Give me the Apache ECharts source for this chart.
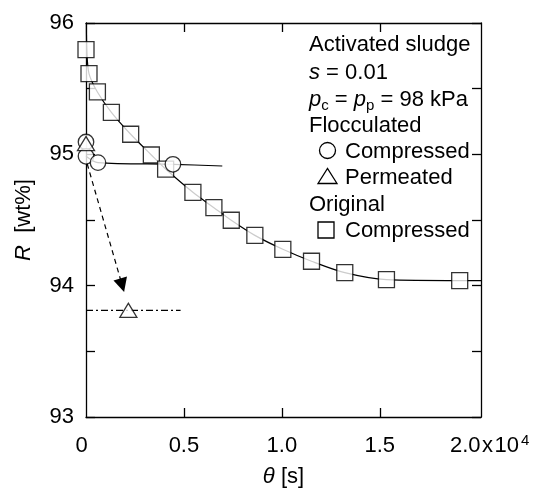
<!DOCTYPE html>
<html>
<head>
<meta charset="utf-8">
<script src="https://cdn.jsdelivr.net/npm/echarts@6/dist/echarts.min.js"></script>
<style>html,body{margin:0;padding:0;background:#fff}#c{width:538px;height:488px}</style>
</head>
<body>
<div id="c"></div>
<script>
// ---- data ----
// Original sludge, compressed (squares)
const origTheta = [0, 153, 582, 1296, 2281, 3337, 4066, 5459, 6531, 7418, 8622, 10051, 11515, 13214, 15342, 19082];
const origR     = [95.797, 95.615, 95.475, 95.32, 95.153, 94.995, 94.888, 94.711, 94.594, 94.498, 94.383, 94.277, 94.186, 94.099, 94.046, 94.039];
// fitted curve through the original data
const origCurveTheta = [20, 40, 153, 582, 1296, 2281, 3337, 4066, 5459, 6531, 7418, 8622, 10051, 11515, 13214, 15342, 19082, 20170];
const origCurveR     = [96.0, 95.80, 95.615, 95.475, 95.32, 95.153, 94.995, 94.888, 94.711, 94.594, 94.498, 94.383, 94.277, 94.186, 94.099, 94.046, 94.039, 94.039];
// Flocculated, compressed (circles)
const flocTheta = [0, 0, 612, 4439];
const flocR     = [95.094, 94.985, 94.937, 94.924];
const flocCurveTheta = [0, 612, 4439, 6959];
const flocCurveR     = [94.985, 94.937, 94.924, 94.911];
// Flocculated, permeated (triangles)
const permTheta = [0, 2163];
const permR     = [95.082, 93.812];
// dash-dot reference level
const levelTheta = [0, 4830];
const levelR     = [93.812, 93.812];
// dashed arrow
const arrowTheta = [61, 1847];
const arrowR     = [94.928, 94.0035];
// axis ticks and labels
const xTickValues  = [5000, 10000, 15000];
const xLabelValues = [0, 5000, 10000, 15000, 20000];
const xTickLabels  = ['{zero|0}', '{m|0.5}', '{m|1.0}', '{m|1.5}', '{big|2.0}{x|x}{m|10}{sup|4}'];
const yTickLabels  = ['93', '94', '95', '96'];

const FONT = 'Liberation Sans, Arial, Helvetica, sans-serif';
const zip = (a, b) => a.map((v, i) => [v, b[i]]);

const chart = echarts.init(document.getElementById('c'), null, {renderer: 'canvas'});
const axisLine = {show: true, onZero: false, lineStyle: {color: '#000', width: 1.3}};
const yTick = {show: true, inside: true, length: 9, lineStyle: {color: '#000', width: 1.3}};
const xTick = {show: true, inside: true, length: 9, customValues: xTickValues, lineStyle: {color: '#000', width: 1.3}};
const lab = {fontSize: 22, fontFamily: FONT, color: '#000', lineHeight: 22};

chart.setOption({
  backgroundColor: '#fff',
  animation: false,
  textStyle: {fontFamily: FONT},
  grid: {left: 86, right: 57, top: 23, bottom: 71, containLabel: false, outerBoundsMode: 'none'},
  xAxis: [{
    type: 'value', min: 0, max: 20170, position: 'bottom',
    axisLine: axisLine, axisTick: xTick, splitLine: {show: false},
    axisLabel: {
      customValues: xLabelValues, showMinLabel: true, showMaxLabel: true,
      margin: 16, color: '#000', fontSize: 22, fontFamily: FONT,
      formatter: v => xTickLabels[xLabelValues.indexOf(v)] || '',
      rich: {
        m: Object.assign({}, lab, {padding: [4, 0, 0, 0]}),
        zero: Object.assign({}, lab, {padding: [4, 9, 0, 0]}),
        big: Object.assign({}, lab, {padding: [4, 0, 0, 24]}),
        x: Object.assign({}, lab, {padding: [4, 1.5, 0, 1.5]}),
        sup: {fontSize: 15, fontFamily: FONT, color: '#000', verticalAlign: 'top', lineHeight: 15, padding: [0, 0, 0, 2]}
      }
    },
    name: '{i|θ} [s]', nameLocation: 'middle', nameGap: 49,
    nameTextStyle: {fontSize: 22, color: '#000', fontFamily: FONT,
      rich: {i: Object.assign({}, lab, {fontStyle: 'italic'})}}
  }, {
    type: 'value', min: 0, max: 20170, position: 'top',
    axisLine: axisLine, axisTick: xTick, axisLabel: {show: false}, splitLine: {show: false}
  }],
  yAxis: [{
    type: 'value', min: 93, max: 96, interval: 0.5, position: 'left',
    axisLine: axisLine, axisTick: yTick, splitLine: {show: false},
    axisLabel: {
      margin: 12, color: '#000', fontSize: 22, fontFamily: FONT,
      formatter: v => (Math.abs(v - Math.round(v)) < 1e-6 ? yTickLabels[Math.round(v) - 93] : '')
    },
    name: '{i|R}  [wt%]', nameLocation: 'middle', nameGap: 51, nameRotate: 90,
    nameTextStyle: {fontSize: 22, color: '#000', fontFamily: FONT,
      rich: {i: Object.assign({}, lab, {fontStyle: 'italic'})}}
  }, {
    type: 'value', min: 93, max: 96, interval: 0.5, position: 'right',
    axisLine: axisLine, axisTick: yTick, axisLabel: {show: false}, splitLine: {show: false}
  }],
  series: [
    {type: 'line', data: zip(origCurveTheta, origCurveR), smooth: 0.3, symbol: 'none',
     lineStyle: {color: '#000', width: 1.2}, z: 2},
    {type: 'line', data: zip(flocCurveTheta, flocCurveR), smooth: 0.3, symbol: 'none',
     lineStyle: {color: '#000', width: 1.2}, z: 2},
    {type: 'line', data: zip(levelTheta, levelR), symbol: 'none',
     lineStyle: {color: '#000', width: 1.2, type: [7, 3, 2, 3]}, z: 2},
    {type: 'lines', coordinateSystem: 'cartesian2d', polyline: false,
     symbol: ['none', 'triangle'], symbolSize: [11, 14],
     lineStyle: {color: '#000', width: 1.2, type: [5, 4], opacity: 1},
     data: [{coords: zip(arrowTheta, arrowR)}], z: 3},
    {type: 'scatter', data: zip(origTheta, origR), symbol: 'rect', symbolSize: 16, clip: false,
     itemStyle: {color: '#fff', borderColor: '#000', borderWidth: 1.3}, z: 5},
    {type: 'scatter', data: zip(flocTheta, flocR), symbol: 'circle', symbolSize: 15.5, clip: false,
     itemStyle: {color: '#fff', borderColor: '#000', borderWidth: 1.3}, z: 5},
    {type: 'scatter', data: zip(permTheta, permR), symbol: 'triangle', symbolSize: [17, 14], clip: false,
     itemStyle: {color: '#fff', borderColor: '#000', borderWidth: 1.3}, z: 6}
  ],
  graphic: [
    {type: 'text', left: 309, top: 33.5, style: {text: 'Activated sludge', fontSize: 22, fontFamily: FONT, fill: '#000'}},
    {type: 'text', left: 309, top: 61.5, style: {text: '{i|s} = 0.01', fontSize: 22, fontFamily: FONT, fill: '#000',
      rich: {i: {fontStyle: 'italic', fontSize: 22, fontFamily: FONT}}}},
    {type: 'text', left: 309, top: 85.5, style: {text: '{i|p}{sub|c} = {i|p}{sub|p} = 98 kPa', fontSize: 22, fontFamily: FONT, fill: '#000', lineHeight: 28,
      rich: {i: {fontStyle: 'italic', fontSize: 22, fontFamily: FONT, lineHeight: 28},
             sub: {fontSize: 15, fontFamily: FONT, verticalAlign: 'bottom', lineHeight: 15}}}},
    {type: 'text', left: 309, top: 114.5, style: {text: 'Flocculated', fontSize: 22, fontFamily: FONT, fill: '#000'}},
    {type: 'circle', shape: {cx: 327.5, cy: 150.5, r: 8}, style: {fill: '#fff', stroke: '#000', lineWidth: 1.3}},
    {type: 'text', left: 345, top: 140.5, style: {text: 'Compressed', fontSize: 22, fontFamily: FONT, fill: '#000'}},
    {type: 'polygon', shape: {points: [[318, 183.5], [337, 183.5], [327.5, 168.5]]}, style: {fill: '#fff', stroke: '#000', lineWidth: 1.3}},
    {type: 'text', left: 345, top: 166.5, style: {text: 'Permeated', fontSize: 22, fontFamily: FONT, fill: '#000'}},
    {type: 'text', left: 309, top: 193.5, style: {text: 'Original', fontSize: 22, fontFamily: FONT, fill: '#000'}},
    {type: 'rect', shape: {x: 318, y: 222, width: 16, height: 16}, style: {fill: '#fff', stroke: '#000', lineWidth: 1.3}},
    {type: 'text', left: 345, top: 219.5, style: {text: 'Compressed', fontSize: 22, fontFamily: FONT, fill: '#000'}}
  ]
});
</script>
</body>
</html>
